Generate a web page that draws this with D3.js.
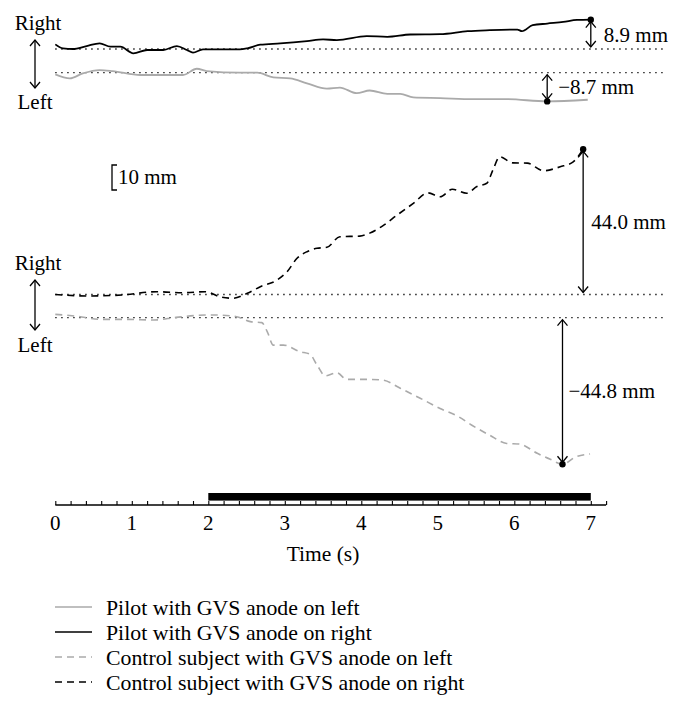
<!DOCTYPE html>
<html><head><meta charset="utf-8">
<script src="https://cdn.jsdelivr.net/npm/d3@7"></script>
<style>
body{margin:0;background:#fff}
svg{display:block}
text{font-family:"Liberation Serif","Times New Roman",serif;fill:#000}
</style>
</head><body>
<svg id="chart" width="683" height="715"></svg>
<script>
// ---------------- DATA ----------------
const pilotRightTime = [0,0.10,0.23,0.41,0.58,0.72,0.85,1.02,1.20,1.41,1.59,1.72,1.80,1.93,2.41,2.51,2.68,2.94,3.29,3.50,3.68,4.07,4.34,4.64,5.03,5.39,5.68,6.04,6.10,6.24,6.43,6.64,6.82,7.0];
const pilotRightMm   = [1.4,0.2,0,0.9,1.7,0.7,0.7,-1.3,-0.3,-0.3,0.9,-0.3,-1.1,-0.1,-0.1,0.2,1.3,1.7,2.4,2.9,2.7,3.9,3.7,4.4,4.5,5.4,5.7,5.9,5.4,7.2,7.7,8.2,8.8,8.9];

const pilotLeftTime = [0,0.19,0.36,0.58,0.75,1.11,1.37,1.67,1.85,1.98,2.41,2.64,2.85,3.07,3.29,3.55,3.72,3.94,4.11,4.34,4.51,4.68,5.03,5.46,5.89,6.43,6.96];
const pilotLeftMm   = [-0.5,-1.7,-0.2,0.8,0.5,-0.7,-0.7,-0.7,1.2,0.5,0,0,-1.4,-1.7,-3.2,-4.8,-4.5,-6.2,-5.4,-6.4,-6.4,-7.5,-7.7,-8.0,-8.0,-8.7,-8.2];

const controlRightTime = [0,0.42,0.87,1.33,1.67,1.96,2.15,2.32,2.51,2.68,2.90,3.03,3.16,3.29,3.42,3.55,3.72,3.98,4.11,4.28,4.47,4.68,4.87,5.03,5.19,5.38,5.51,5.64,5.72,5.81,5.98,6.17,6.38,6.60,6.77,6.90];
const controlRightMm   = [0,-0.45,-0.15,0.85,0.55,0.85,-0.67,-1.15,0.36,2.36,4.39,6.91,10.97,12.97,14.0,14.3,17.5,17.7,18.6,20.8,24.1,27.6,30.8,29.6,31.9,30.7,32.7,33.7,37.7,41.7,39.9,39.8,37.5,38.7,40.2,44.0];

const controlLeftTime = [0,0.26,0.60,0.95,1.29,1.58,1.98,2.11,2.37,2.55,2.70,2.77,2.85,2.98,3.20,3.33,3.42,3.53,3.68,3.81,4.11,4.28,4.51,4.77,5.03,5.27,5.44,5.67,5.90,6.07,6.30,6.47,6.63,6.81,6.99];
const controlLeftMm   = [1.0,0.5,-0.5,-0.5,-0.7,0.1,0.8,0.8,0.3,-1.2,-1.5,-4.2,-8.3,-8.3,-10.3,-11.1,-14.3,-17.6,-16.7,-18.7,-18.7,-18.9,-21.4,-24.4,-27.5,-30.0,-32.5,-35.5,-38.1,-38.3,-41.1,-42.9,-44.4,-42.1,-41.3];

const annotationLabels = ["8.9 mm", "\u22128.7 mm", "44.0 mm", "\u221244.8 mm"];
const legendLabels = ["Pilot with GVS anode on left","Pilot with GVS anode on right","Control subject with GVS anode on left","Control subject with GVS anode on right"];
const tickLabels = [0,1,2,3,4,5,6,7];
const stimulusStart = 2, stimulusEnd = 7;
const scaleBarLabel = "10 mm";
const axisTitle = "Time (s)";

// ---------------- LAYOUT ----------------
const svg = d3.select("#chart");
const FS = 21;
const mmPx = 3.3;
const x = d3.scaleLinear().domain([0, 7]).range([55.3, 590.8]);
const xAxisEnd = 7.2;
function traceScale(base){ return d3.scaleLinear().domain([0, 10]).range([base, base - 10*mmPx]); }

const grey = "#aaaaaa";
const series = [
  {t: pilotLeftTime,   v: pilotLeftMm,   y: traceScale(72.7),  color: grey,   dash: null,  ext: "min", ann: 1, dx: 11},
  {t: pilotRightTime,  v: pilotRightMm,  y: traceScale(49),    color: "#000", dash: null,  ext: "max", ann: 0, dx: 13},
  {t: controlLeftTime, v: controlLeftMm, y: traceScale(317.7), color: grey,   dash: "7,5", ext: "min", ann: 3, dx: 6},
  {t: controlRightTime,v: controlRightMm,y: traceScale(294.5), color: "#000", dash: "7,5", ext: "max", ann: 2, dx: 8}
];

// dotted baselines
series.forEach(s => {
  svg.append("line")
    .attr("x1", x(0)).attr("x2", 664)
    .attr("y1", s.y(0)).attr("y2", s.y(0))
    .attr("stroke", "#000").attr("stroke-width", 1.3)
    .attr("stroke-dasharray", "1.3,4.7");
});

// traces
series.forEach(s => {
  const pts = s.t.map((t,i)=>[t, s.v[i]]);
  const line = d3.line().x(d=>x(d[0])).y(d=>s.y(d[1])).curve(d3.curveMonotoneX);
  svg.append("path").attr("d", line(pts))
    .attr("fill","none").attr("stroke", s.color)
    .attr("stroke-width", s.dash ? 1.6 : 1.8)
    .attr("stroke-dasharray", s.dash);
});

// double arrow helper
function dArrow(x0, y0, y1, head=5, len=6){
  const top = Math.min(y0,y1), bot = Math.max(y0,y1);
  const g = svg.append("g").attr("stroke","#000").attr("stroke-width",1.3).attr("fill","none");
  g.append("line").attr("x1",x0).attr("x2",x0).attr("y1",top).attr("y2",bot);
  g.append("polyline").attr("points", `${x0-head},${top+len} ${x0},${top} ${x0+head},${top+len}`);
  g.append("polyline").attr("points", `${x0-head},${bot-len} ${x0},${bot} ${x0+head},${bot-len}`);
}

// extremum dots, arrows, labels
series.forEach(s => {
  const idx = s.ext === "max" ? d3.maxIndex(s.v) : d3.minIndex(s.v);
  const px = x(s.t[idx]), py = s.y(s.v[idx]), p0 = s.y(0);
  const up = py < p0;
  dArrow(px, up ? py+2 : p0+2, up ? p0-2 : py-2);
  svg.append("circle").attr("cx",px).attr("cy",py).attr("r",3.2).attr("fill","#000");
  svg.append("text").attr("x", px + s.dx).attr("y", (py+p0)/2).attr("dy","0.35em")
    .attr("font-size", FS).text(annotationLabels[s.ann]);
});

// Right / Left side indicators
[[23, 40, 88, 102], [263, 280, 330, 345]].forEach(([rY, a0, a1, lY]) => {
  svg.append("text").attr("x", 38).attr("y", rY).attr("dy","0.35em").attr("text-anchor","middle").attr("font-size",FS).text("Right");
  svg.append("text").attr("x", 35).attr("y", lY).attr("dy","0.35em").attr("text-anchor","middle").attr("font-size",FS).text("Left");
  dArrow(35, a0, a1);
});

// scale bar
svg.append("polyline").attr("points","117,165 112,165 112,190 117,190")
  .attr("fill","none").attr("stroke","#000").attr("stroke-width",1.3);
svg.append("text").attr("x",118).attr("y",177).attr("dy","0.35em").attr("font-size",FS).text(scaleBarLabel);

// stimulus bar
const axisY = 505;
svg.append("rect").attr("x", x(stimulusStart)).attr("width", x(stimulusEnd)-x(stimulusStart))
  .attr("y", 493).attr("height", 7.6).attr("fill","#000");

// time axis
const axis = d3.axisTop(x).tickValues(d3.range(0, xAxisEnd + 0.01, 0.2)).tickSize(4).tickFormat("");
const ag = svg.append("g").attr("transform", `translate(0,${axisY})`).call(axis);
ag.select(".domain").attr("d", `M${x(0)},0H${x(xAxisEnd)}`).attr("stroke-width",1.3);
ag.selectAll(".tick line").attr("stroke-width",1.1);
svg.selectAll(".ticklab").data(tickLabels).enter().append("text")
  .attr("x", d=>x(d)).attr("y", 523).attr("dy","0.35em").attr("text-anchor","middle")
  .attr("font-size",FS).text(d=>d);
svg.append("text").attr("x", x(3.5)).attr("y", 553).attr("dy","0.35em").attr("text-anchor","middle")
  .attr("font-size",FS + 0.5).text(axisTitle);

// legend
const legendStyles = [
  {color: grey, dash: null}, {color:"#000", dash:null},
  {color: grey, dash: "7,5"}, {color:"#000", dash:"7,5"}
];
legendLabels.forEach((lab,i) => {
  const yy = 607 + i*25;
  svg.append("line").attr("x1",55).attr("x2",92).attr("y1",yy).attr("y2",yy)
    .attr("stroke", legendStyles[i].color).attr("stroke-width",1.6)
    .attr("stroke-dasharray", legendStyles[i].dash);
  svg.append("text").attr("x",106).attr("y",yy).attr("dy","0.35em").attr("font-size",21.8).text(lab);
});
</script>
</body></html>
